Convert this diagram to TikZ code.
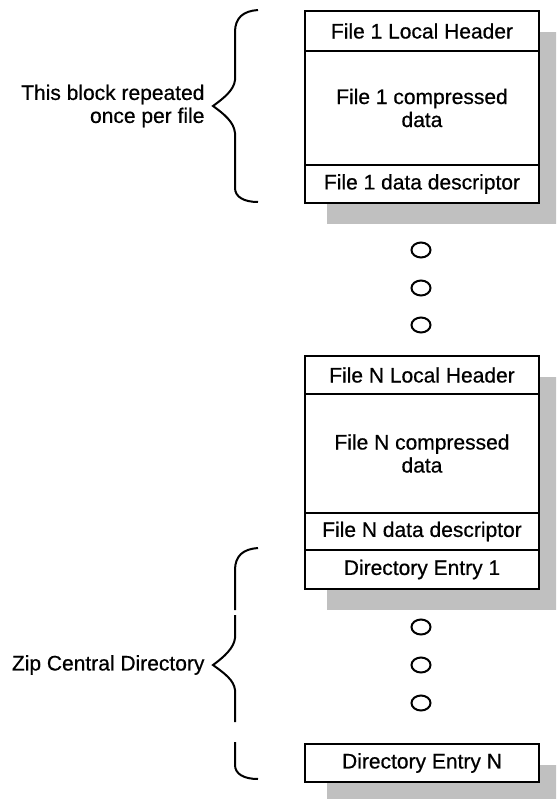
\documentclass[tikz,border=0pt]{standalone}
\usepackage{fontspec}
\setmainfont{Liberation Sans}
\newfontfamily\pixfont[FakeBold=0.6]{Liberation Sans}
\usetikzlibrary{shapes.geometric}
\definecolor{shadowgray}{HTML}{C0C0C0}
\newcommand{\lbl}{\pixfont\fontsize{21}{23}\selectfont}
\tikzset{
  cell/.style={draw, line width=2pt, fill=white, inner sep=0pt, minimum width=234pt,
               anchor=north west, align=center, font=\lbl},
  shadowbox/.style={fill=shadowgray, draw=none},
  ovaldot/.style={draw, line width=2pt, ellipse, minimum width=19pt, minimum height=15pt, inner sep=0pt},
  bracepath/.style={line width=2pt, line cap=butt, line join=miter},
  sidelabel/.style={align=right, anchor=east, font=\lbl}
}
\begin{document}
\begin{tikzpicture}[x=1pt,y=-1pt]
\useasboundingbox (0,0) rectangle (556,799);
\fill[white] (0,0) rectangle (556,799);
\begin{scope}
\clip (0,0) rectangle (556,799);
% shadows
\fill[shadowbox] (327,32) rectangle (561,224);
\fill[shadowbox] (327,377) rectangle (561,610);
\fill[shadowbox] (327,765) rectangle (561,803);
\end{scope}
% first file block
\node[cell, minimum height=40pt] (h1) at (304,10) {File 1 Local Header};
\node[cell, minimum height=114pt] (c1) at (304,50) {File 1 compressed\\data};
\node[cell, minimum height=38pt] (d1) at (304,164) {File 1 data descriptor};
% dots
\node[ovaldot] (o1) at (421,250) {};
\node[ovaldot] (o2) at (421,288) {};
\node[ovaldot] (o3) at (421,325) {};
% last file block
\node[cell, minimum height=38pt] (hN) at (304,355) {File N Local Header};
\node[cell, minimum height=119pt] (cN) at (304,393) {File N compressed\\data};
\node[cell, minimum height=37pt] (dN) at (304,512) {File N data descriptor};
\node[cell, minimum height=39pt] (e1) at (304,549) {Directory Entry 1};
% dots
\node[ovaldot] (o4) at (421,627) {};
\node[ovaldot] (o5) at (421,665) {};
\node[ovaldot] (o6) at (421,703) {};
\node[cell, minimum height=38pt] (eN) at (304,743) {Directory Entry N};
% labels
\node[sidelabel] (lab1) at (208,106) {This block repeated\\once per file};
\node[sidelabel] (lab2) at (208,665) {Zip Central Directory};
% braces
\draw[bracepath] (258,10) .. controls (243,11) and (235,18) .. (235,32)
  -- (235,80) .. controls (234,90) and (224,98) .. (213,106)
  .. controls (224,114) and (234,122) .. (235,133)
  -- (235,188) .. controls (235,197) and (244,202) .. (258,202);
\draw[bracepath] (258,548) .. controls (243,549) and (235,556) .. (235,570) -- (235,610);
\draw[bracepath] (235,615) -- (235,638) .. controls (234,648) and (224,657) .. (213,665)
  .. controls (224,673) and (234,680) .. (235,690) -- (235,722);
\draw[bracepath] (235,742) -- (235,765) .. controls (235,774) and (244,779) .. (258,779);
\end{tikzpicture}
\end{document}
